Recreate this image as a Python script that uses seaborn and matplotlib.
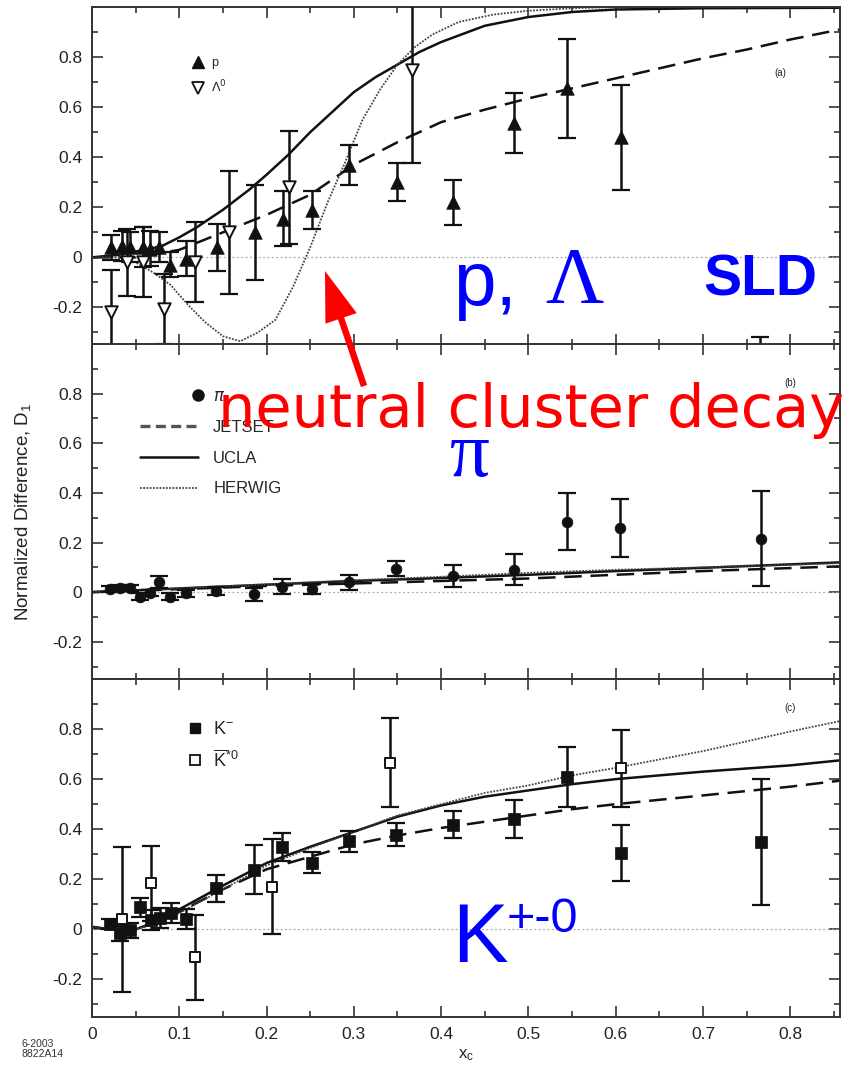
import numpy as np
import pandas as pd
import matplotlib
matplotlib.use("Agg")
import matplotlib.pyplot as plt
import seaborn as sns
from matplotlib.lines import Line2D
from matplotlib.patches import FancyArrowPatch
from matplotlib.legend_handler import HandlerLine2D
from matplotlib.ticker import MultipleLocator, FixedLocator, FixedFormatter

# ---------------- data ----------------
# panel (a): protons and Lambda0
p_x = [0.022, 0.034, 0.044, 0.059, 0.066, 0.077, 0.089, 0.108, 0.143, 0.187, 0.219, 0.252, 0.295, 0.349, 0.414, 0.483, 0.544, 0.606]
p_y = [0.04, 0.045, 0.04, 0.04, 0.035, 0.04, -0.03, -0.005, 0.04, 0.10, 0.155, 0.19, 0.37, 0.30, 0.22, 0.535, 0.675, 0.48]
p_err = [0.05, 0.06, 0.06, 0.08, 0.07, 0.06, 0.05, 0.07, 0.095, 0.19, 0.11, 0.075, 0.08, 0.075, 0.09, 0.12, 0.197, 0.21]
lam_x = [0.022, 0.040, 0.059, 0.083, 0.118, 0.157, 0.226, 0.367, 0.765]
lam_y = [-0.22, -0.02, -0.02, -0.205, -0.02, 0.10, 0.28, 0.75, -0.55]
lam_err = [0.17, 0.135, 0.14, 0.14, 0.16, 0.245, 0.225, 0.375, 0.23]

jet_a_x = [0, 0.05, 0.1, 0.15, 0.2, 0.25, 0.3, 0.35, 0.4, 0.45, 0.5, 0.55, 0.6, 0.65, 0.7, 0.75, 0.8, 0.857]
jet_a_y = [0, 0.0, 0.03, 0.1, 0.17, 0.25, 0.37, 0.46, 0.54, 0.59, 0.635, 0.675, 0.715, 0.755, 0.795, 0.83, 0.87, 0.91]
ucla_a_x = [0, 0.03, 0.06, 0.08, 0.1, 0.12, 0.15, 0.18, 0.2, 0.225, 0.25, 0.275, 0.3, 0.325, 0.35, 0.375, 0.4, 0.45, 0.5, 0.55, 0.6, 0.7, 0.857]
ucla_a_y = [0, 0.01, 0.03, 0.045, 0.08, 0.12, 0.19, 0.27, 0.33, 0.41, 0.50, 0.58, 0.66, 0.72, 0.77, 0.82, 0.86, 0.925, 0.96, 0.98, 0.99, 0.995, 0.997]
her_a_x = [0, 0.03, 0.05, 0.07, 0.09, 0.11, 0.13, 0.15, 0.17, 0.19, 0.21, 0.23, 0.25, 0.27, 0.29, 0.31, 0.33, 0.35, 0.37, 0.39, 0.42, 0.46, 0.5, 0.55, 0.6, 0.7, 0.857]
her_a_y = [0, 0.0, -0.02, -0.06, -0.11, -0.19, -0.26, -0.315, -0.335, -0.3, -0.25, -0.12, 0.04, 0.22, 0.38, 0.55, 0.67, 0.77, 0.84, 0.89, 0.94, 0.97, 0.985, 0.995, 1.0, 1.0, 1.0]

# panel (b): pions
pi_x = [0.021, 0.032, 0.044, 0.055, 0.066, 0.077, 0.089, 0.108, 0.142, 0.186, 0.218, 0.252, 0.295, 0.348, 0.414, 0.483, 0.544, 0.605, 0.766]
pi_y = [0.011, 0.018, 0.015, -0.018, -0.003, 0.04, -0.018, -0.005, 0.005, -0.009, 0.022, 0.011, 0.04, 0.094, 0.064, 0.091, 0.283, 0.259, 0.216]
pi_err = [0.012, 0.012, 0.012, 0.015, 0.012, 0.025, 0.015, 0.015, 0.015, 0.025, 0.03, 0.02, 0.03, 0.03, 0.045, 0.064, 0.115, 0.117, 0.193]

mod_b_x = [0, 0.1, 0.2, 0.3, 0.4, 0.5, 0.6, 0.7, 0.8, 0.857]
jet_b_y = [0, 0.012, 0.025, 0.035, 0.045, 0.055, 0.07, 0.085, 0.097, 0.104]
ucla_b_y = [0, 0.015, 0.03, 0.045, 0.057, 0.07, 0.085, 0.098, 0.112, 0.12]
her_b_y = [0, 0.015, 0.032, 0.048, 0.062, 0.078, 0.09, 0.1, 0.11, 0.117]

# panel (c): kaons
km_x = [0.021, 0.032, 0.044, 0.055, 0.068, 0.078, 0.091, 0.108, 0.142, 0.186, 0.218, 0.252, 0.295, 0.348, 0.414, 0.483, 0.544, 0.606, 0.766]
km_y = [0.021, -0.016, -0.003, 0.088, 0.037, 0.044, 0.064, 0.04, 0.164, 0.238, 0.329, 0.267, 0.351, 0.378, 0.418, 0.441, 0.609, 0.305, 0.349]
km_err = [0.02, 0.03, 0.03, 0.037, 0.04, 0.04, 0.04, 0.04, 0.055, 0.097, 0.055, 0.043, 0.043, 0.045, 0.055, 0.075, 0.12, 0.113, 0.25]
ks_x = [0.034, 0.068, 0.118, 0.206, 0.341, 0.606]
ks_y = [0.04, 0.184, -0.112, 0.171, 0.665, 0.643]
ks_err = [0.29, 0.15, 0.17, 0.19, 0.178, 0.155]

mod_c_x = [0, 0.02, 0.05, 0.08, 0.1, 0.15, 0.2, 0.25, 0.3, 0.35, 0.4, 0.45, 0.5, 0.55, 0.6, 0.7, 0.8, 0.857]
ucla_c_y = [0.01, 0.0, 0.0, 0.04, 0.08, 0.175, 0.265, 0.33, 0.39, 0.45, 0.495, 0.53, 0.555, 0.58, 0.6, 0.63, 0.655, 0.675]
jet_c_y = [0.01, 0.0, 0.0, 0.035, 0.07, 0.16, 0.24, 0.29, 0.34, 0.375, 0.405, 0.43, 0.455, 0.48, 0.5, 0.535, 0.57, 0.594]
her_c_y = [0.01, 0.0, 0.0, 0.03, 0.065, 0.16, 0.255, 0.325, 0.39, 0.455, 0.5, 0.545, 0.575, 0.615, 0.645, 0.712, 0.79, 0.832]

x_ticks = [0, 0.1, 0.2, 0.3, 0.4, 0.5, 0.6, 0.7, 0.8]
x_ticklabels = ["0", "0.1", "0.2", "0.3", "0.4", "0.5", "0.6", "0.7", "0.8"]
y_ticks = [-0.2, 0, 0.2, 0.4, 0.6, 0.8]
y_ticklabels = ["-0.2", "0", "0.2", "0.4", "0.6", "0.8"]
model_names = ["JETSET", "UCLA", "HERWIG"]

# ---------------- style ----------------
sns.set_theme(style="ticks")
plt.rcParams["font.family"] = ["Liberation Sans", "DejaVu Sans"]
plt.rcParams["mathtext.fontset"] = "dejavusans"

DASH = (0, (7, 3.5))
DOT = (0, (1, 0.8))
LW = 1.8
INK = "#111111"

fig = plt.figure(figsize=(8.61, 10.69), dpi=100)
W, H = 861, 1069
left = 92 / W
width = (840 - 92) / W
ax_a = fig.add_axes([left, 1 - 345 / H, width, 338 / H])
ax_b = fig.add_axes([left, 1 - 679 / H, width, 335 / H])
ax_c = fig.add_axes([left, 1 - 1017 / H, width, 338 / H])


def draw_models(ax, xs, jet, ucla, her):
    sns.lineplot(x=xs[0], y=jet, ax=ax, color=INK, lw=LW, linestyle=DASH, legend=False)
    sns.lineplot(x=xs[1], y=ucla, ax=ax, color=INK, lw=LW, legend=False)
    sns.lineplot(x=xs[2], y=her, ax=ax, color="#444444", lw=1.3, linestyle=DOT, legend=False)


def data_points(ax, x, y, err, marker, filled, s):
    ax.errorbar(x, y, yerr=err, fmt="none", ecolor=INK, elinewidth=1.8, capsize=6.5, capthick=1.6, zorder=3)
    if filled:
        sns.scatterplot(x=x, y=y, ax=ax, marker=marker, s=s, color=INK, edgecolor=INK, linewidth=0.5, zorder=4, legend=False)
    else:
        sns.scatterplot(x=x, y=y, ax=ax, marker=marker, s=s, color="white", edgecolor=INK, linewidth=1.4, zorder=4, legend=False)


def style_axis(ax, show_x):
    ax.set_xlim(0, 0.857)
    ax.set_ylim(-0.35, 1.0)
    ax.axhline(0, color="#aaaaaa", lw=0.9, ls=(0, (1.5, 2)), zorder=1)
    ax.xaxis.set_major_locator(FixedLocator(x_ticks))
    ax.xaxis.set_minor_locator(MultipleLocator(0.05))
    ax.yaxis.set_major_locator(FixedLocator(y_ticks))
    ax.yaxis.set_major_formatter(FixedFormatter(y_ticklabels))
    ax.yaxis.set_minor_locator(MultipleLocator(0.1))
    if show_x:
        ax.xaxis.set_major_formatter(FixedFormatter(x_ticklabels))
    else:
        ax.tick_params(axis="x", labelbottom=False)
    ax.tick_params(which="both", direction="in", top=True, right=True, color="#333333", width=1.2)
    ax.tick_params(which="major", length=8, labelsize=12.5, labelcolor="#222222", pad=7)
    ax.tick_params(which="minor", length=4.5)
    for sp in ax.spines.values():
        sp.set_color("#333333")
        sp.set_linewidth(1.4)
    ax.set_xlabel("")
    ax.set_ylabel("")


class RightMarkerHandler(HandlerLine2D):
    def get_xdata(self, legend, xdescent, ydescent, width, height, fontsize):
        xdata = np.array([-xdescent + width - 1.0, -xdescent + width])
        return xdata, np.array([-xdescent + width])


# ---- panel (a)
draw_models(ax_a, [jet_a_x, ucla_a_x, her_a_x], jet_a_y, ucla_a_y, her_a_y)
data_points(ax_a, p_x, p_y, p_err, "^", True, 95)
data_points(ax_a, lam_x, lam_y, lam_err, "v", False, 80)
style_axis(ax_a, False)
h_a = [Line2D([], [], ls="none", marker="^", color=INK, ms=9),
       Line2D([], [], ls="none", marker="v", mfc="white", mec=INK, mew=1.3, ms=8.5)]
ax_a.legend(h_a, ["p", r"$\Lambda^0$"], loc="upper left", bbox_to_anchor=(0.133, 0.852),
            frameon=False, fontsize=9, handlelength=1.0, handletextpad=0.6, labelspacing=0.75,
            borderpad=0, borderaxespad=0)
ax_a.text(0.92, 0.805, "(a)", transform=ax_a.transAxes, fontsize=7, ha="center", va="center", color="#222")

# ---- panel (b)
draw_models(ax_b, [mod_b_x, mod_b_x, mod_b_x], jet_b_y, ucla_b_y, her_b_y)
data_points(ax_b, pi_x, pi_y, pi_err, "o", True, 60)
style_axis(ax_b, False)
pi_handle = Line2D([], [], ls="none", marker="o", color=INK, ms=8)
h_b = [pi_handle,
       Line2D([], [], color="#555555", lw=2.4, ls=(0, (3, 1.6))),
       Line2D([], [], color=INK, lw=LW),
       Line2D([], [], color="#444444", lw=1.3, ls=DOT)]
ax_b.legend(h_b, [r"$\pi$"] + model_names, loc="upper left", bbox_to_anchor=(0.064, 0.866),
            frameon=False, fontsize=12, handlelength=3.5, handletextpad=0.9, labelspacing=0.95,
            borderpad=0, borderaxespad=0, handler_map={pi_handle: RightMarkerHandler()})
ax_b.text(0.933, 0.885, "(b)", transform=ax_b.transAxes, fontsize=7, ha="center", va="center", color="#222")
ax_b.set_ylabel(r"Normalized Difference, $\mathregular{D_1}$", fontsize=13.5, color="#222")
ax_b.yaxis.set_label_coords(-0.079, 0.5)

# ---- panel (c)
draw_models(ax_c, [mod_c_x, mod_c_x, mod_c_x], jet_c_y, ucla_c_y, her_c_y)
data_points(ax_c, km_x, km_y, km_err, "s", True, 65)
data_points(ax_c, ks_x, ks_y, ks_err, "s", False, 60)
style_axis(ax_c, True)
h_c = [Line2D([], [], ls="none", marker="s", color=INK, ms=7.5),
       Line2D([], [], ls="none", marker="s", mfc="white", mec=INK, mew=1.3, ms=7.5)]
ax_c.legend(h_c, [r"$\mathregular{K^{-}}$", r"$\mathregular{\overline{K}^{*0}}$"], loc="upper left",
            bbox_to_anchor=(0.126, 0.875), frameon=False, fontsize=13, handlelength=1.0,
            handletextpad=0.5, labelspacing=0.65, borderpad=0, borderaxespad=0)
ax_c.text(0.933, 0.915, "(c)", transform=ax_c.transAxes, fontsize=7, ha="center", va="center", color="#222")
ax_c.set_xlabel(r"$\mathregular{x_c}$", fontsize=12, color="#222", labelpad=4)

fig.text(22 / W, 1 - 1059 / H, "6-2003\n8822A14", fontsize=7.5, color="#333", ha="left", va="bottom",
         linespacing=1.05)

# ---------------- overlay annotations ----------------
BLUE = "#0000ff"
RED = "#ff0000"
fig.text(453 / W, 1 - 305 / H, "p,", fontsize=55, color=BLUE, family="Liberation Sans", ha="left", va="baseline")
fig.text(545 / W, 1 - 303 / H, "Λ", fontsize=58, color=BLUE, family="Liberation Serif", ha="left", va="baseline")
fig.text(703 / W, 1 - 296 / H, "SLD", fontsize=41, color=BLUE, family="Liberation Sans", weight="bold",
         ha="left", va="baseline")
fig.text(218 / W, 1 - 427 / H, "neutral cluster decay", fontsize=42.5, color=RED, family="DejaVu Sans",
         ha="left", va="baseline")
fig.text(450 / W, 1 - 476 / H, "π", fontsize=57, color=BLUE, family="Liberation Serif", ha="left", va="baseline")
fig.text(452 / W, 1 - 962 / H, "K", fontsize=60, color=BLUE, family="Liberation Sans", ha="left", va="baseline")
fig.text(507 / W, 1 - 932 / H, "+-0", fontsize=35, color=BLUE, family="Liberation Sans", ha="left", va="baseline")

arrow = FancyArrowPatch((364 / W, 1 - 386 / H), (325 / W, 1 - 271 / H), transform=fig.transFigure,
                        arrowstyle="simple,head_length=1.0,head_width=0.66,tail_width=0.13",
                        mutation_scale=36, facecolor=RED, edgecolor="none", zorder=10,
                        shrinkA=0, shrinkB=0)
fig.add_artist(arrow)

fig.savefig("out.png", dpi=100)
